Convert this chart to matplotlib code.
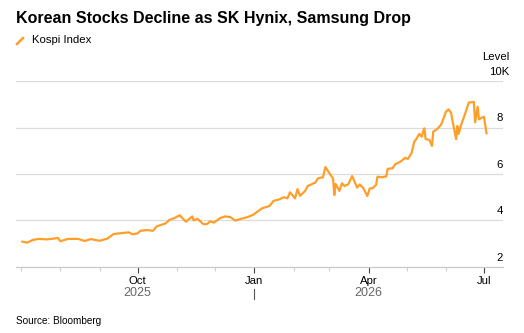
import matplotlib
matplotlib.use("Agg")
import matplotlib.pyplot as plt
import matplotlib.dates as mdates
import matplotlib.transforms as mtransforms
from matplotlib.lines import Line2D
import pandas as pd

plt.rcParams["font.family"] = ["Liberation Sans", "DejaVu Sans"]

# Kospi index level, thousands
dates = [
    "2025-07-02", "2025-07-06", "2025-07-10", "2025-07-15", "2025-07-21", "2025-07-25",
    "2025-07-30", "2025-08-01", "2025-08-07", "2025-08-15", "2025-08-20", "2025-08-25",
    "2025-09-01", "2025-09-07", "2025-09-12", "2025-09-18", "2025-09-24", "2025-09-27",
    "2025-10-01", "2025-10-03", "2025-10-08", "2025-10-13", "2025-10-16", "2025-10-23",
    "2025-10-26", "2025-10-30", "2025-11-03", "2025-11-08", "2025-11-13", "2025-11-14",
    "2025-11-17", "2025-11-21", "2025-11-22", "2025-11-25", "2025-11-27", "2025-11-30",
    "2025-12-05", "2025-12-09", "2025-12-13", "2025-12-17", "2025-12-21", "2025-12-26",
    "2025-12-31", "2026-01-07", "2026-01-13", "2026-01-16", "2026-01-21", "2026-01-24",
    "2026-01-27", "2026-01-29", "2026-02-02", "2026-02-04", "2026-02-06", "2026-02-10",
    "2026-02-12", "2026-02-18", "2026-02-20", "2026-02-24", "2026-02-26", "2026-03-02",
    "2026-03-04", "2026-03-05", "2026-03-06", "2026-03-09", "2026-03-11", "2026-03-13",
    "2026-03-16", "2026-03-19", "2026-03-21", "2026-03-23", "2026-03-25", "2026-03-28",
    "2026-03-31", "2026-04-02", "2026-04-04", "2026-04-07", "2026-04-08", "2026-04-12",
    "2026-04-15", "2026-04-16", "2026-04-20", "2026-04-22", "2026-04-26", "2026-04-30",
    "2026-05-02", "2026-05-05", "2026-05-07", "2026-05-09", "2026-05-11", "2026-05-13",
    "2026-05-14", "2026-05-15", "2026-05-16", "2026-05-19", "2026-05-21", "2026-05-22",
    "2026-05-25", "2026-05-28", "2026-05-29", "2026-06-01", "2026-06-03", "2026-06-05",
    "2026-06-07", "2026-06-09", "2026-06-10", "2026-06-11", "2026-06-13", "2026-06-16",
    "2026-06-19", "2026-06-23", "2026-06-24", "2026-06-26", "2026-06-27", "2026-06-30",
    "2026-07-01", "2026-07-03",
]
kospi = [
    3.08, 3.04, 3.15, 3.20, 3.18, 3.20,
    3.24, 3.10, 3.20, 3.20, 3.11, 3.19,
    3.12, 3.21, 3.41, 3.45, 3.48, 3.40,
    3.44, 3.55, 3.58, 3.55, 3.74, 3.87,
    4.02, 4.10, 4.22, 3.94, 4.17, 4.00,
    4.07, 3.87, 3.83, 3.85, 3.96, 3.90,
    4.10, 4.17, 4.14, 3.99, 4.06, 4.13,
    4.24, 4.52, 4.62, 4.84, 4.91, 5.00,
    4.95, 5.21, 4.95, 5.35, 5.06, 5.27,
    5.48, 5.63, 5.81, 5.86, 6.30, 5.96,
    5.81, 5.09, 5.57, 5.27, 5.60, 5.48,
    5.56, 5.91, 5.67, 5.41, 5.55, 5.38,
    5.05, 5.38, 5.38, 5.53, 5.88, 5.86,
    5.90, 6.22, 6.25, 6.42, 6.53, 6.70,
    6.65, 6.92, 7.39, 7.54, 7.73, 7.61,
    7.83, 7.97, 7.51, 7.47, 7.21, 7.83,
    7.93, 8.12, 8.23, 8.69, 8.79, 8.65,
    8.07, 7.50, 8.07, 7.73, 8.12, 8.58,
    9.08, 9.11, 8.23, 8.90, 8.36, 8.45,
    8.47, 7.76,
]
y_ticks = [2, 4, 6, 8, 10]
y_labels = ["2", "4", "6", "8", "10K"]
month_ticks = ["2025-10-01", "2026-01-01", "2026-04-01", "2026-07-01"]
month_labels = ["Oct", "Jan", "Apr", "Jul"]
years = [("2025-10-01", "2025"), ("2026-04-01", "2026")]

orange = "#ff9f2a"

fig = plt.figure(figsize=(5.24, 3.33), dpi=100)
ax = fig.add_axes([16 / 524, 1 - 266.7 / 333, (503 - 16) / 524, (266.7 - 81.3) / 333])

x = pd.to_datetime(dates)
ax.plot(x, kospi, color=orange, lw=1.6, solid_joinstyle="round", zorder=3)

ax.set_ylim(2, 10)
ax.set_xlim(pd.Timestamp("2025-06-27"), pd.Timestamp("2026-07-16"))

for v in y_ticks[1:]:
    ax.axhline(v, color="#dcdcdc", lw=0.9, zorder=1)
ax.set_yticks([])

for s in ["top", "left", "right"]:
    ax.spines[s].set_visible(False)
ax.spines["bottom"].set_color("#c8c8c8")
ax.spines["bottom"].set_linewidth(0.9)

ax.set_xticks(pd.to_datetime(month_ticks))
ax.set_xticklabels(month_labels, fontsize=8.2, color="black")
ax.xaxis.set_minor_locator(mdates.MonthLocator())
ax.tick_params(axis="x", which="major", length=4.5, width=0.8, color="#444444", pad=2.5)
ax.tick_params(axis="x", which="minor", length=3, width=0.8, color="#d0d0d0")

# year row
trans = mtransforms.blended_transform_factory(ax.transData, fig.transFigure)
for d, lab in years:
    ax.text(pd.Timestamp(d), 1 - 293 / 333, lab, transform=trans, fontsize=9,
            color="#666666", ha="center", va="center")
jan = pd.Timestamp("2026-01-01")
ax.plot([jan, jan], [1 - 289 / 333, 1 - 298.5 / 333], transform=trans,
        color="#555555", lw=0.8, clip_on=False)

# y labels on the right, above gridlines
ytrans = mtransforms.blended_transform_factory(fig.transFigure, ax.transData)
for v, lab in zip(y_ticks, y_labels):
    xr = 503 / 524 if lab != "10K" else 509 / 524
    ax.text(xr, v, lab, transform=ytrans + mtransforms.ScaledTranslation(0, 3 / 72, fig.dpi_scale_trans),
            fontsize=8.2, ha="right", va="bottom", color="black")
fig.text(509 / 524, 1 - 57 / 333, "Level", fontsize=8.2, ha="right", va="center")

# title, legend, source
fig.text(16 / 524, 1 - 18 / 333, "Korean Stocks Decline as SK Hynix, Samsung Drop",
         fontsize=11.5, fontweight="bold", ha="left", va="center")
fig.add_artist(Line2D([17 / 524, 23 / 524], [1 - 44 / 333, 1 - 38 / 333], color=orange, lw=1.8))
fig.text(32 / 524, 1 - 40 / 333, "Kospi Index", fontsize=8.2, ha="left", va="center")
fig.text(16 / 524, 1 - 321 / 333, "Source: Bloomberg", fontsize=7.2, ha="left", va="center")

fig.savefig("out.png", dpi=100)
